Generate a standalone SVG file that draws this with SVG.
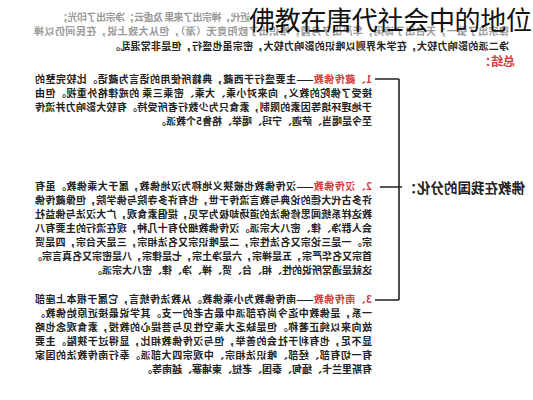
<svg xmlns="http://www.w3.org/2000/svg" width="533" height="400" viewBox="0 0 533 400">
<style>
.b{font-family:"Noto Sans CJK SC","Noto Sans",sans-serif;font-size:10px;font-weight:700;fill:#222}
.g{fill:#9a9a9a}
.r{fill:#d23c3c}
.h{font-family:"Noto Sans CJK SC","Noto Sans",sans-serif;font-size:13.5px;font-weight:700;fill:#222}
.t{font-family:"Noto Sans CJK SC","Noto Sans",sans-serif;font-size:26px;font-weight:400;fill:#111}
.ln{stroke:#222;stroke-width:1.6;fill:none}
</style>
<rect width="533" height="400" fill="#fff"/>
<g transform="matrix(-1 0 0 1 533 0)">
<g id="intro">
<text class="b g" x="283" y="21" textLength="192" lengthAdjust="spacing">近代，禅宗出了来果 及虚云；净宗出了印光；</text>
<text class="b g" x="24" y="35" textLength="475" lengthAdjust="spacing">律宗出了弘一；天台出了谛闲；华严出了月霞；唯识出了欧阳竟无（渐），但从大致上说，在民间仍以禅</text>
<text class="b" x="24" y="50" textLength="399" lengthAdjust="spacing">净二派的影响力较大，在学术界则以唯识的影响力较大，密宗虽也盛行，但是非常混乱。</text>
</g>
<g id="summary">
<text class="b r" x="18" y="66" style="font-size:12px">总结：</text>
</g>
<g id="root">
<text class="h" x="8" y="193">佛教在我国的分化：</text>
</g>
<g id="connectors">
<path class="ln" d="M131 187H153M134 79V300M134 79H158M134 300H158"/>
</g>
<g id="tibetan">
<text class="b" x="161" y="83" textLength="337" lengthAdjust="spacing"><tspan class="r">1、藏传佛教</tspan>——主要盛行于西藏，典籍所使用的语言为藏语。比较完整的</text>
<text class="b" x="161" y="97" textLength="337" lengthAdjust="spacing">接受了佛陀的教义，向来对小乘、大乘、密乘三乘 的戒律格外重视。但由</text>
<text class="b" x="161" y="111" textLength="337" lengthAdjust="spacing">于地理环境等因素的限制，素食只为少数行者所受持。有较大影响力并流传</text>
<text class="b" x="161" y="125">至今是噶当、萨迦、宁玛、噶举、格鲁5个教派。</text>
</g>
<g id="han">
<text class="b" x="161" y="190" textLength="337" lengthAdjust="spacing"><tspan class="r">2、汉传佛教</tspan>——汉传佛教也被狭义地称为汉地佛教，属于大乘佛教。虽有</text>
<text class="b" x="161" y="204" textLength="337" lengthAdjust="spacing">许多古代大德的论典与教言流传于世，也有许多寺院与佛学院，但像藏传佛</text>
<text class="b" x="161" y="218" textLength="337" lengthAdjust="spacing">教这样系统闻思修佛法的道场却极为罕见，提倡素食观，广大汉法与佛益社</text>
<text class="b" x="161" y="232" textLength="337" lengthAdjust="spacing">会人群净、律、密八大宗派。汉传佛教细分有十几种，现在流行的主要有八</text>
<text class="b" x="161" y="246" textLength="337" lengthAdjust="spacing">宗。一是三论宗又名法性宗，二是唯识宗又名法相宗，三是天台宗，四是贤</text>
<text class="b" x="161" y="260" textLength="340" lengthAdjust="spacing">首宗又名华严宗，五是禅宗，六是净土宗，七是律宗，八是密宗又名真言宗。</text>
<text class="b" x="161" y="274">这就是通常所说的性、相、台、贤、禅、净、律、密八大宗派。</text>
</g>
<g id="theravada">
<text class="b" x="161" y="303" textLength="337" lengthAdjust="spacing"><tspan class="r">3、南传佛教</tspan>——南传佛教为小乘佛教。从教法传统言，它属于根本上座部</text>
<text class="b" x="161" y="317" textLength="337" lengthAdjust="spacing">一系，是佛教中迄今尚存部派中最古老的一支。其学说最接近原始佛教。</text>
<text class="b" x="161" y="331" textLength="337" lengthAdjust="spacing">故向来以纯正著称。但是缺乏大乘空性见与菩提心的教授，素食观念也略</text>
<text class="b" x="161" y="345" textLength="337" lengthAdjust="spacing">显不足，也有利于社会的善举，但与汉传佛教相比，显得过于狭隘。主要</text>
<text class="b" x="161" y="359" textLength="337" lengthAdjust="spacing">有一切有部、经部、唯识法相宗、中观宗四大部派。奉行南传教法的国家</text>
<text class="b" x="161" y="373">有斯里兰卡、缅甸、泰国、老挝、柬埔寨、越南等。</text>
</g>
</g>
<g id="title">
<text class="t" x="249" y="30" textLength="283" lengthAdjust="spacing">佛教在唐代社会中的地位</text>
</g>
</svg>
